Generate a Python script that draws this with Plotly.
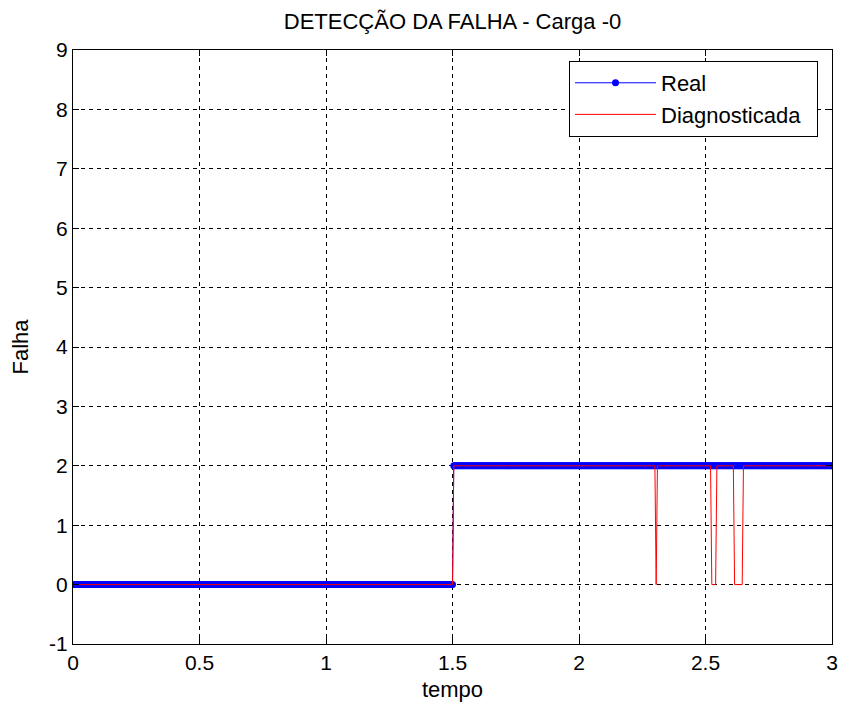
import numpy as np
import plotly.graph_objects as go

# Fault signal description
dt = 0.005
t_end = 3.0
fault_onset = 1.5            # time at which the real fault appears
level_before = 0             # fault class before onset
level_after = 2              # fault class after onset
# intervals (start, end) where the diagnosis drops back to class 0
miss_start = [2.305, 2.525, 2.615]
miss_end = [2.305, 2.540, 2.645]
miss_level = 0

x_ticks = [0, 0.5, 1, 1.5, 2, 2.5, 3]
x_labels = ["0", "0.5", "1", "1.5", "2", "2.5", "3"]
y_ticks = [-1, 0, 1, 2, 3, 4, 5, 6, 7, 8, 9]
y_labels = ["-1", "0", "1", "2", "3", "4", "5", "6", "7", "8", "9"]

tempo = np.round(np.arange(0, t_end + dt / 2, dt), 4)
real = np.where(tempo <= fault_onset, level_before, level_after).astype(float)
diag = real.copy()
for a, b in zip(miss_start, miss_end):
    diag[(tempo >= a - 1e-9) & (tempo <= b + 1e-9)] = miss_level

font = "Liberation Sans, Arial, Helvetica, sans-serif"
tick_size = 21
text_size = 22

fig = go.Figure()
fig.add_trace(go.Scatter(
    x=tempo, y=real, name="Real", mode="lines+markers",
    line=dict(color="#0000ff", width=1),
    marker=dict(color="#0000ff", size=7, symbol="circle"),
))
fig.add_trace(go.Scatter(
    x=tempo, y=diag, name="Diagnosticada\u2002", mode="lines",
    line=dict(color="#ff0000", width=1),
))

axis_common = dict(
    showline=True, linecolor="black", linewidth=1, mirror="ticks",
    ticks="inside", ticklen=6, tickcolor="black", automargin=False,
    showgrid=True, gridcolor="black", gridwidth=1, griddash="4px,4px",
    zeroline=False, tickfont=dict(family=font, size=tick_size, color="black"),
)

fig.update_layout(
    width=843, height=711, autosize=False,
    margin=dict(l=73, r=11, t=50, b=67),
    paper_bgcolor="white", plot_bgcolor="white",
    title=dict(text="DETECÇÃO DA FALHA - Carga -0", x=(73 + 832) / 2 / 843,
               xanchor="center", y=1 - 21 / 711, yanchor="middle",
               font=dict(family=font, size=text_size, color="black")),
    xaxis=dict(range=[0, 3], tickvals=x_ticks, ticktext=x_labels,
               title=dict(text="tempo", font=dict(family=font, size=text_size, color="black"), standoff=8),
               **axis_common),
    yaxis=dict(range=[-1, 9], tickvals=y_ticks, ticktext=y_labels,
               title=dict(text="Falha", font=dict(family=font, size=text_size, color="black"), standoff=14),
               **axis_common),
    legend=dict(x=(569 - 73) / 759, y=0.9815, xanchor="left", yanchor="top",
                bgcolor="white", bordercolor="black", borderwidth=1,
                font=dict(family=font, size=text_size, color="black"),
                itemwidth=81, tracegroupgap=7),
    showlegend=True,
)

fig.write_html("out.html")
